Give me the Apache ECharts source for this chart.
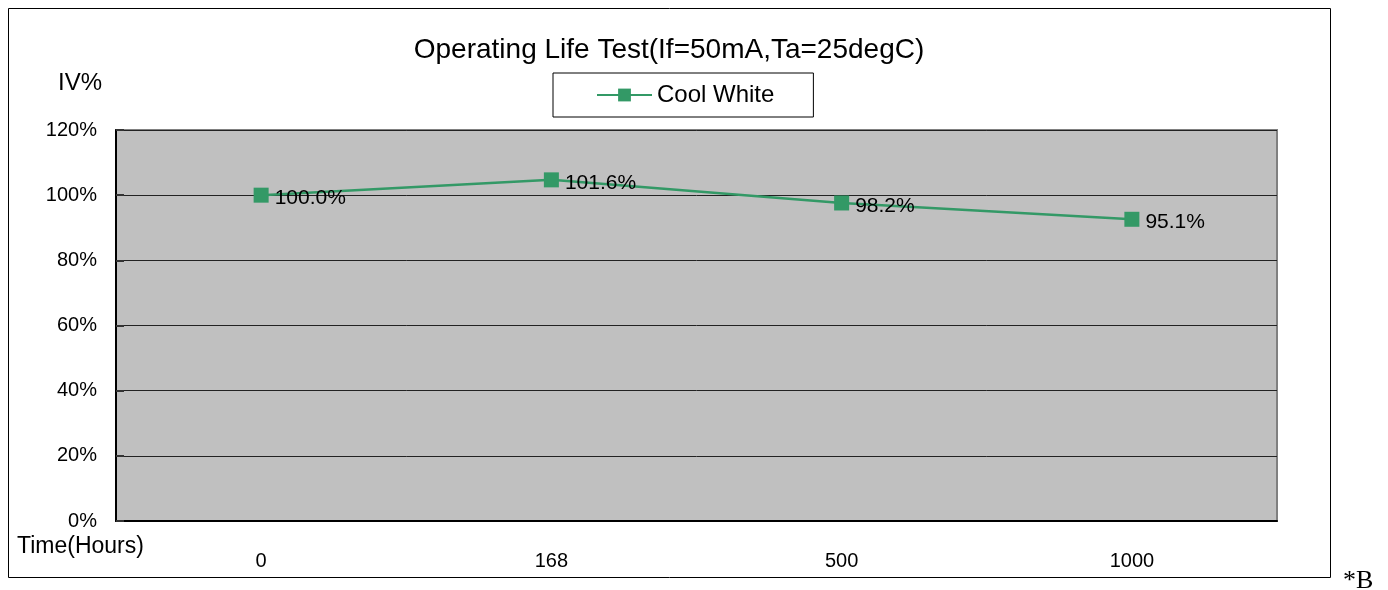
<!DOCTYPE html>
<html>
<head>
<meta charset="utf-8">
<script src="https://cdn.jsdelivr.net/npm/echarts@6/dist/echarts.min.js"></script>
<style>
  html, body { margin: 0; padding: 0; background: #fff; }
  #chart { width: 1388px; height: 590px; }
</style>
</head>
<body>
<div id="chart"></div>
<script>
// hours after start
const categories = ['0', '168', '500', '1000']
// plotted positions
const ivValues = [100.0, 104.7, 97.6, 92.6]
// printed data labels
const ivLabels = ['100.0%', '101.6%', '98.2%', '95.1%']
const seriesName = 'Cool White'
const lineColor = '#339966'

const chart = echarts.init(document.getElementById('chart'))

const option = {
  animation: false,
  textStyle: { fontFamily: 'Liberation Sans, Arial, sans-serif', color: '#000' },
  graphic: [
    {
      type: 'rect',
      z: -10,
      shape: { x: 8.5, y: 8.5, width: 1322, height: 569 },
      style: { fill: 'none', stroke: '#000', lineWidth: 1 }
    },
    {
      type: 'text',
      x: 669,
      y: 50,
      style: {
        text: 'Operating Life Test(If=50mA,Ta=25degC)',
        font: '28px "Liberation Sans", Arial, sans-serif',
        fill: '#000',
        textAlign: 'center',
        textVerticalAlign: 'middle'
      }
    },
    {
      type: 'text',
      x: 17,
      y: 547,
      style: {
        text: 'Time(Hours)',
        font: '23px "Liberation Sans", Arial, sans-serif',
        fill: '#000',
        textAlign: 'left',
        textVerticalAlign: 'middle'
      }
    },
    {
      type: 'text',
      x: 1343,
      y: 581,
      style: {
        text: '*B',
        font: '26px "Liberation Serif", "Times New Roman", serif',
        fill: '#000',
        textAlign: 'left',
        textVerticalAlign: 'middle'
      }
    }
  ],
  legend: {
    left: 553,
    top: 73,
    padding: [10, 39, 10, 43],
    itemWidth: 55,
    itemHeight: 16,
    borderColor: '#000',
    borderWidth: 1,
    borderRadius: 0,
    textStyle: { fontSize: 24, color: '#000' },
    data: [seriesName]
  },
  grid: {
    left: 116,
    right: 111,
    top: 130,
    bottom: 69,
    show: true,
    backgroundColor: '#C0C0C0',
    borderColor: '#808080',
    borderWidth: 2
  },
  xAxis: {
    type: 'category',
    data: categories,
    boundaryGap: true,
    axisLine: { lineStyle: { color: '#000', width: 2 } },
    axisTick: { inside: true, length: 8, lineStyle: { color: '#000' } },
    axisLabel: { fontSize: 20, color: '#000', margin: 30 },
    splitLine: { show: false }
  },
  yAxis: {
    type: 'value',
    min: 0,
    max: 120,
    interval: 20,
    name: 'IV%',
    nameLocation: 'end',
    nameGap: 35,
    nameTextStyle: { fontSize: 24, color: '#000', align: 'right', padding: [0, 14, 0, 0] },
    axisLine: { show: true, lineStyle: { color: '#000', width: 2 } },
    axisTick: { show: true, inside: true, length: 8, lineStyle: { color: '#333', width: 2 } },
    axisLabel: { fontSize: 20, color: '#000', margin: 19, padding: [6, 0, 0, 0], formatter: '{value}%' },
    splitLine: { show: true, lineStyle: { color: '#222', width: 1 } }
  },
  series: [
    {
      name: seriesName,
      type: 'line',
      data: ivValues,
      symbol: 'rect',
      symbolSize: 15,
      itemStyle: { color: lineColor },
      lineStyle: { color: lineColor, width: 2.5 },
      label: {
        show: true,
        position: 'right',
        distance: 6,
        offset: [0, 3],
        fontSize: 21,
        color: '#000',
        formatter: p => ivLabels[p.dataIndex]
      }
    }
  ]
}

chart.setOption(option)
</script>
</body>
</html>
